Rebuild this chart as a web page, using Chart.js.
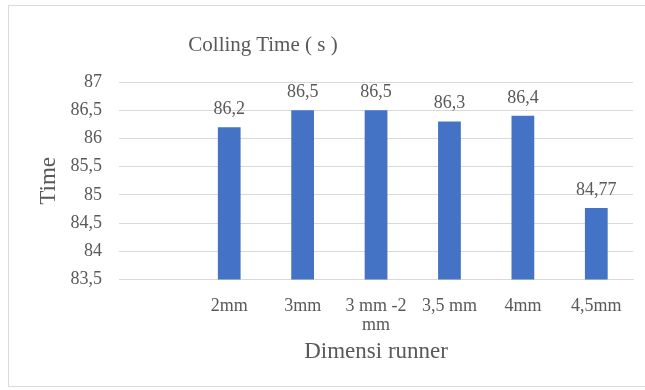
<!DOCTYPE html>
<html>
<head>
<meta charset="utf-8">
<script src="https://cdn.jsdelivr.net/npm/chart.js@4/dist/chart.umd.min.js"></script>
<style>
  html, body { margin: 0; padding: 0; background: #ffffff; overflow: hidden; }
  #wrap { position: relative; width: 645px; height: 390px; }
  #frame { position: absolute; left: 8px; top: 5px; width: 700px; height: 382px; border: 1px solid #d9d9d9; box-sizing: border-box; }
  #title { position: absolute; left: 0; top: 31px; width: 526px; text-align: center;
           font-family: "Liberation Serif", "Times New Roman", serif; font-size: 21px; line-height: 26px; color: #595959; }
  canvas { position: absolute; left: 0; top: 0; }
</style>
</head>
<body>
<div id="wrap">
  <div id="frame"></div>
  <canvas id="chart" width="645" height="390"></canvas>
  <div id="title">Colling Time ( s )</div>
</div>
<script>
// Runner dimensions (first slot is left empty) and their cooling times
const categories = ["", "2mm", "3mm", ["3 mm -2", "mm"], "3,5 mm", "4mm", "4,5mm"];
const coolingTime = [null, 86.2, 86.5, 86.5, 86.3, 86.4, 84.77];
const yTicks = [83.5, 84, 84.5, 85, 85.5, 86, 86.5, 87];

const textGray = "#595959";
const serif = "'Liberation Serif', 'Times New Roman', serif";
const fmt = v => String(v).replace(".", ",");

// Writes each bar's value just above it
const valueLabels = {
  id: "valueLabels",
  afterDatasetsDraw(chart) {
    const ctx = chart.ctx;
    const meta = chart.getDatasetMeta(0);
    ctx.save();
    ctx.font = "18px " + serif;
    ctx.fillStyle = textGray;
    ctx.textAlign = "center";
    ctx.textBaseline = "middle";
    meta.data.forEach((bar, i) => {
      const v = chart.data.datasets[0].data[i];
      if (v == null) return;
      ctx.fillText(fmt(v), bar.x, bar.y - 18);
    });
    ctx.restore();
  }
};

new Chart(document.getElementById("chart"), {
  type: "bar",
  data: {
    labels: categories,
    datasets: [{
      data: coolingTime,
      backgroundColor: "#4472c4",
      borderWidth: 0,
      categoryPercentage: 1.0,
      barPercentage: 0.31
    }]
  },
  options: {
    responsive: false,
    animation: false,
    layout: { padding: { top: 82, left: 35, right: 12, bottom: 24 } },
    plugins: {
      legend: { display: false },
      tooltip: { enabled: false },
      title: { display: false }
    },
    scales: {
      x: {
        grid: { display: false, drawTicks: false },
        border: { display: true, color: "#d9d9d9", width: 1 },
        ticks: {
          color: textGray,
          font: { family: serif, size: 18, lineHeight: 1.05 },
          padding: 17,
          maxRotation: 0,
          autoSkip: false
        },
        title: {
          display: true,
          text: "Dimensi runner",
          color: textGray,
          font: { family: serif, size: 23 },
          padding: { top: -13, bottom: 0 }
        }
      },
      y: {
        min: 83.5,
        max: 87,
        afterBuildTicks(axis) { axis.ticks = yTicks.map(v => ({ value: v })); },
        grid: { color: "#d9d9d9", lineWidth: 1, drawTicks: false },
        border: { display: false },
        ticks: {
          color: textGray,
          font: { family: serif, size: 18 },
          padding: 17,
          callback: v => fmt(v)
        },
        title: {
          display: true,
          text: "Time",
          color: textGray,
          font: { family: serif, size: 23 },
          padding: { top: 0, bottom: -9 }
        }
      }
    }
  },
  plugins: [valueLabels]
});
</script>
</body>
</html>
